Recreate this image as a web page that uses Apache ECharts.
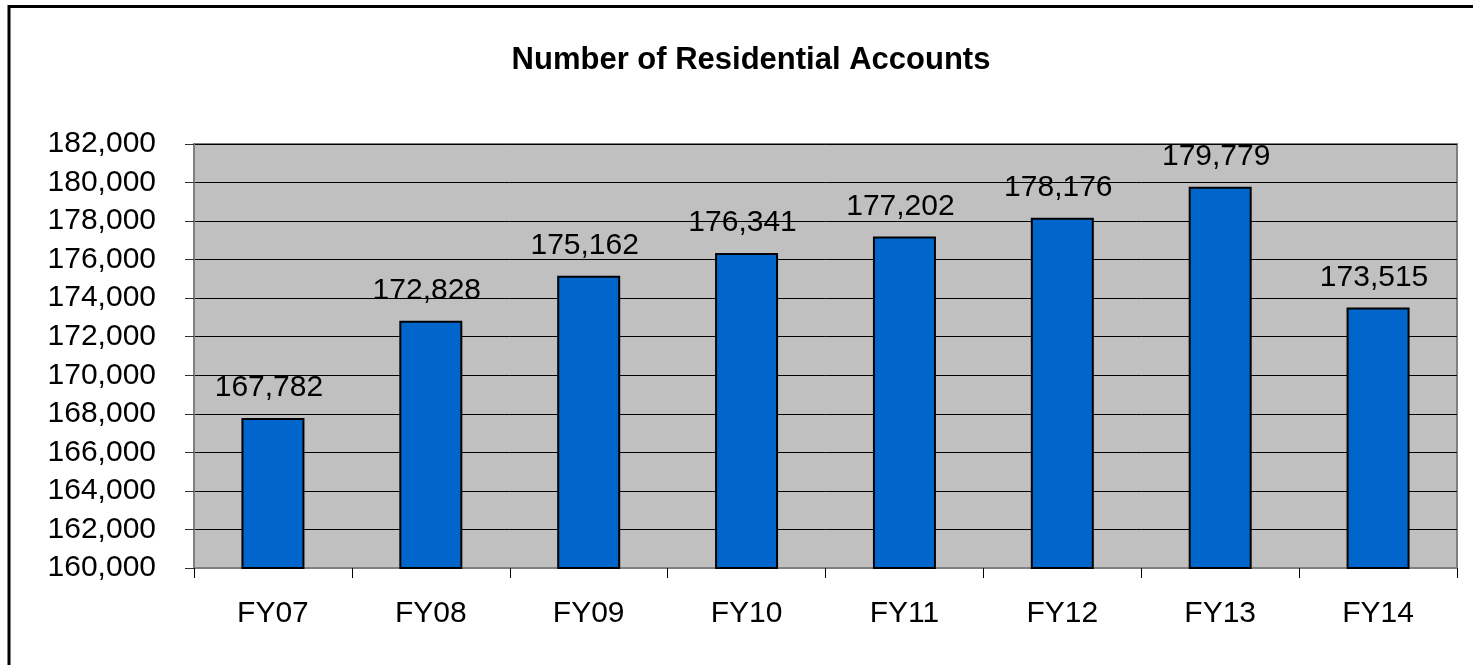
<!DOCTYPE html>
<html>
<head>
<meta charset="utf-8">
<script src="https://cdn.jsdelivr.net/npm/echarts@6/dist/echarts.min.js"></script>
<style>
  html, body { margin: 0; padding: 0; background: #fff; }
  #chart { width: 1473px; height: 665px; }
</style>
</head>
<body>
<div id="chart"></div>
<script>
const years = ['FY07', 'FY08', 'FY09', 'FY10', 'FY11', 'FY12', 'FY13', 'FY14'];
const accounts = [167782, 172828, 175162, 176341, 177202, 178176, 179779, 173515];
const yMin = 160000;
const yMax = 182000;
const yStep = 2000;

const font = "'Liberation Sans', Arial, sans-serif";
const chart = echarts.init(document.getElementById('chart'));

chart.setOption({
    animation: false,
    textStyle: { fontFamily: font },
    title: {
        text: 'Number of Residential Accounts',
        left: 746,
        textAlign: 'center',
        top: 40,
        textStyle: { fontFamily: font, fontSize: 31, fontWeight: 'bold', color: '#000' }
    },
    // outer frame of the chart object
    graphic: [{
        type: 'rect',
        shape: { x: 9, y: 6.5, width: 1500, height: 700 },
        style: { fill: 'none', stroke: '#000', lineWidth: 3 },
        silent: true
    }],
    grid: {
        left: 194,
        top: 144,
        width: 1263,
        height: 424,
        show: true,
        backgroundColor: '#C0C0C0',
        borderColor: '#808080',
        borderWidth: 2
    },
    xAxis: {
        type: 'category',
        data: years,
        axisLine: { show: true, lineStyle: { color: '#808080', width: 2 } },
        axisTick: { show: true, length: 10, lineStyle: { color: '#000' } },
        axisLabel: { margin: 31, color: '#000', fontSize: 30, fontFamily: font },
        splitLine: { show: false }
    },
    yAxis: {
        type: 'value',
        min: yMin,
        max: yMax,
        interval: yStep,
        axisLine: { show: true, lineStyle: { color: '#808080', width: 2 } },
        axisTick: { show: true, length: 9, lineStyle: { color: '#333' } },
        axisLabel: {
            margin: 38,
            color: '#000',
            fontSize: 30,
            fontFamily: font,
            formatter: v => v.toLocaleString('en-US')
        },
        splitLine: { show: true, lineStyle: { color: '#000', width: 1 } }
    },
    series: [{
        type: 'bar',
        data: accounts,
        barWidth: 63,
        itemStyle: { color: '#0066CC', borderColor: '#000', borderWidth: 2 },
        label: {
            show: true,
            position: 'top',
            distance: 15,
            offset: [-4, 0],
            color: '#000',
            fontSize: 30,
            fontFamily: font,
            formatter: p => p.value.toLocaleString('en-US')
        }
    }]
});
</script>
</body>
</html>
